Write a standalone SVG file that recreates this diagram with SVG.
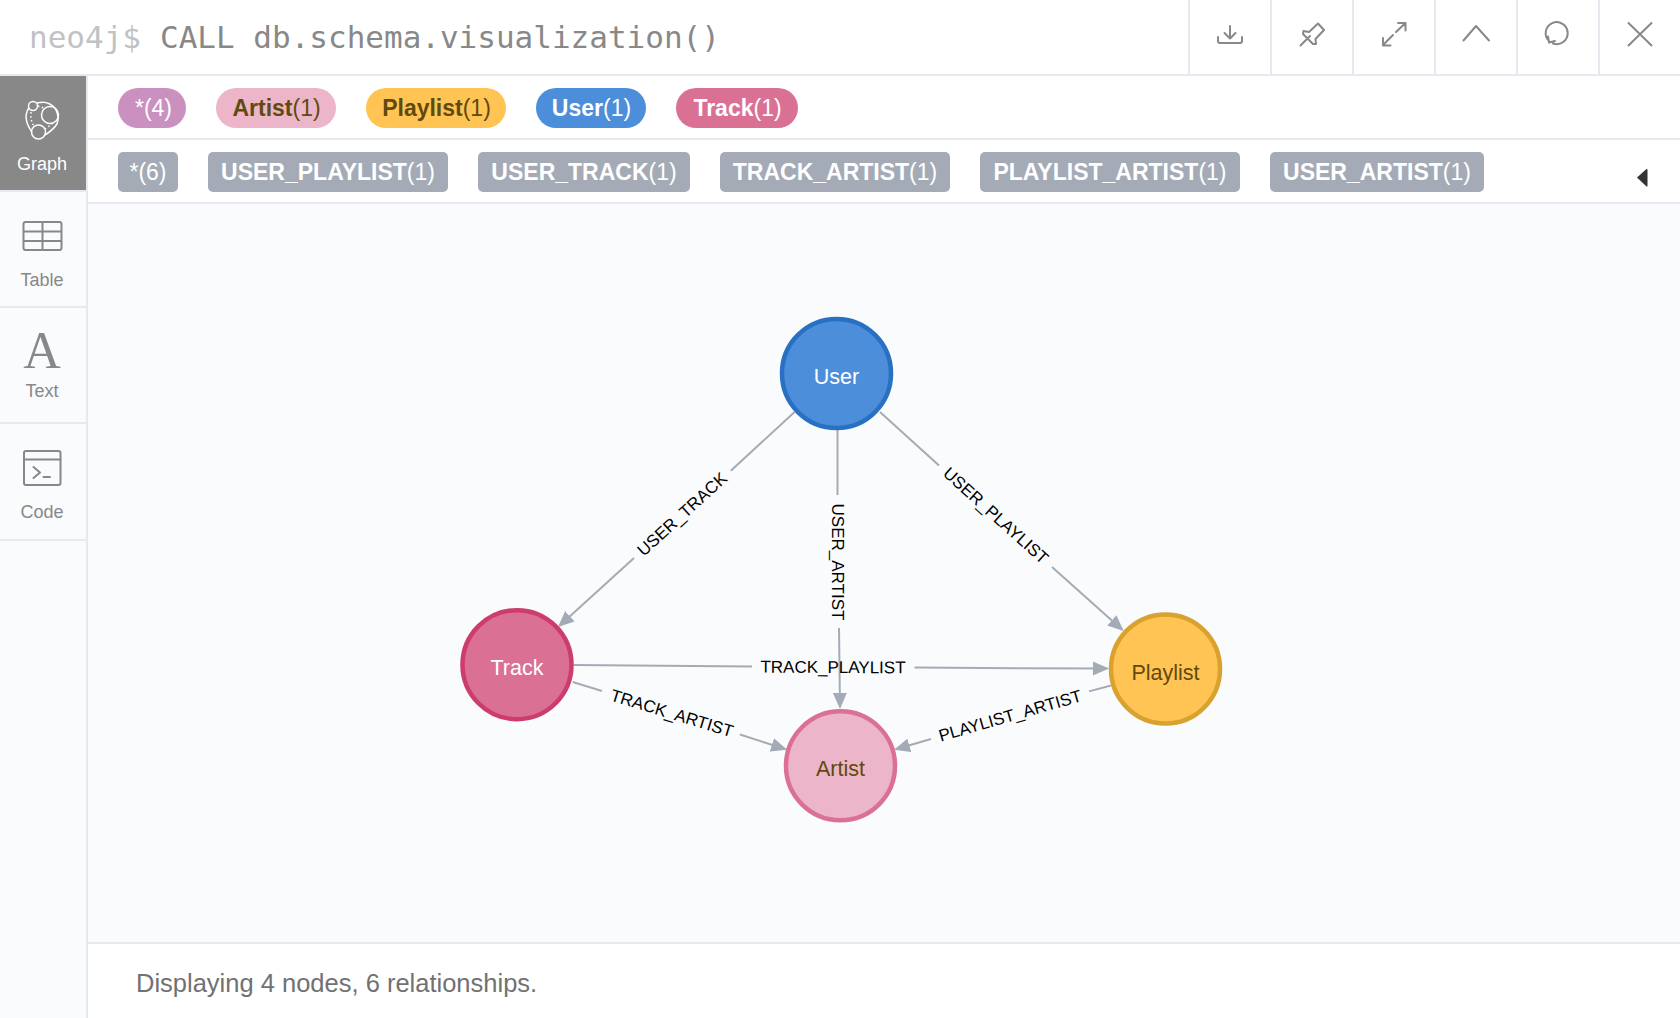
<svg xmlns="http://www.w3.org/2000/svg" width="1680" height="1018" viewBox="0 0 1680 1018">
<style>
text{font-family:"Liberation Sans",Arial,sans-serif}
.mono{font-family:"DejaVu Sans Mono","Liberation Mono",monospace;font-size:31px}
.div{fill:#e6e9ef}
.ico{fill:none;stroke:#888;stroke-width:2;stroke-linecap:round;stroke-linejoin:round}
.side{font-size:18px;text-anchor:middle;fill:#888}
.pill{font-size:23px;text-anchor:middle}
.pill .b{font-weight:bold}
.tag{fill:#a5abb6}
.tagt{font-size:23px;text-anchor:middle;fill:#fff}
.tagt .b{font-weight:bold}
.edge line{stroke:#a5abb6;stroke-width:2}
.elabel{font-size:17px;text-anchor:middle;fill:#000}
.nlabel{font-size:21.5px;text-anchor:middle}
.node{stroke-width:4.5}
</style>
<defs>
<marker id="arrow" markerUnits="userSpaceOnUse" markerWidth="17" markerHeight="16" refX="14" refY="8" orient="auto"><path d="M0 1L16 8L0 15z" fill="#a5abb6"/></marker>
</defs>
<rect width="1680" height="1018" fill="#fff"/>
<rect x="0" y="76" width="86" height="942" fill="#f9fbfd"/>
<rect x="88" y="204" width="1592" height="739" fill="#f9fbfd"/>

<g id="header">
<text class="mono" x="29" y="48" fill="#c0c2c5">neo4j$</text>
<text class="mono" x="160" y="48" fill="#888">CALL db.schema.visualization()</text>
<rect class="div" x="1188" y="0" width="2" height="75"/>
<rect class="div" x="1270" y="0" width="2" height="75"/>
<rect class="div" x="1352" y="0" width="2" height="75"/>
<rect class="div" x="1434" y="0" width="2" height="75"/>
<rect class="div" x="1516" y="0" width="2" height="75"/>
<rect class="div" x="1598" y="0" width="2" height="75"/>
<rect class="div" x="0" y="74" width="1680" height="2"/>
<path class="ico" d="M1230 26V38M1224.500 33L1230 38.500L1235.500 33M1218 37V41Q1218 43 1220 43H1240Q1242 43 1242 41V37"/>
<path class="ico" d="M1300.500 45.500L1310 36M1303.500 31L1309 32L1318 23.500L1324 30L1315.500 39L1316 44L1313 44L1303 34z"/>
<path class="ico" d="M1383 45L1393 35M1383 38V45.500H1390.500M1396 32L1405.500 23M1398 23H1405.500V30.500"/>
<path class="ico" d="M1463.500 40.500L1476 26L1489 40.500"/>
<path class="ico" d="M1549 41A11 11 0 1 1 1553 43.500M1548 36.500L1549 42.500L1555 41"/>
<path class="ico" d="M1628.500 23L1651.500 45.500M1651.500 23L1628.500 45.500"/>
</g>

<g id="sidebar">
<rect x="0" y="76" width="86" height="114" fill="#888"/>
<rect class="div" x="86" y="76" width="2" height="942"/>
<rect class="div" x="0" y="190" width="86" height="2"/>
<rect class="div" x="0" y="306" width="86" height="2"/>
<rect class="div" x="0" y="422" width="86" height="2"/>
<rect class="div" x="0" y="539" width="86" height="2"/>
<g fill="none" stroke="#fff" stroke-width="1.500">
<circle cx="50" cy="115" r="8.500"/><circle cx="33" cy="106" r="4.500"/><circle cx="38.500" cy="132" r="7"/>
<path d="M37 103Q48 100 55 108Q60 116 57 124Q53 130 45 135M32 132Q26 124 26 116Q27 110 29 108"/>
<path stroke-dasharray="1.500 2.500" d="M31 112Q30 120 34 126M38 106L44 108M45 129L52 124"/>
</g>
<text class="side" x="42" y="170" fill="#fff" style="fill:#fff">Graph</text>
<rect class="ico" x="23.500" y="222" width="38" height="28" rx="2" stroke-width="2.500"/>
<path class="ico" d="M23.500 231.500H61.500M23.500 241H61.500M42.500 222V250" style="stroke-linecap:butt"/>
<text class="side" x="42" y="286">Table</text>
<text x="42" y="368" font-size="52" text-anchor="middle" fill="#888" style="font-family:'Liberation Serif',serif">A</text>
<text class="side" x="42" y="397">Text</text>
<rect class="ico" x="24" y="451" width="36.500" height="34" rx="2"/>
<path class="ico" d="M24 459.500H60.500M33.500 467L40 472.500L33.500 478M43.500 477H50"/>
<text class="side" x="42" y="518">Code</text>
</g>

<g id="legend-labels">
<rect class="div" x="88" y="138" width="1592" height="2"/>
<rect class="div" x="88" y="202" width="1592" height="2"/>
<rect x="118" y="88" width="68" height="40" rx="20" fill="#c990c0"/>
<text class="pill" x="153.500" y="116" fill="#fff">*(4)</text>
<rect x="216" y="88" width="120" height="40" rx="20" fill="#ecb5c9"/>
<text class="pill" x="276.500" y="116" fill="#604a0e"><tspan class="b">Artist</tspan>(1)</text>
<rect x="366" y="88" width="140" height="40" rx="20" fill="#ffc454"/>
<text class="pill" x="436.500" y="116" fill="#604a0e"><tspan class="b">Playlist</tspan>(1)</text>
<rect x="536" y="88" width="110" height="40" rx="20" fill="#4c8eda"/>
<text class="pill" x="591.500" y="116" fill="#fff"><tspan class="b">User</tspan>(1)</text>
<rect x="676" y="88" width="122" height="40" rx="20" fill="#da7194"/>
<text class="pill" x="737.500" y="116" fill="#fff"><tspan class="b">Track</tspan>(1)</text>
</g>

<g id="legend-types">
<rect class="tag" x="118" y="152" width="60" height="40" rx="5"/>
<text class="tagt" x="148" y="180">*(6)</text>
<rect class="tag" x="208" y="152" width="240" height="40" rx="5"/>
<text class="tagt" x="328" y="180"><tspan class="b">USER_PLAYLIST</tspan>(1)</text>
<rect class="tag" x="478" y="152" width="212" height="40" rx="5"/>
<text class="tagt" x="584" y="180"><tspan class="b">USER_TRACK</tspan>(1)</text>
<rect class="tag" x="720" y="152" width="230" height="40" rx="5"/>
<text class="tagt" x="835" y="180"><tspan class="b">TRACK_ARTIST</tspan>(1)</text>
<rect class="tag" x="980" y="152" width="260" height="40" rx="5"/>
<text class="tagt" x="1110" y="180"><tspan class="b">PLAYLIST_ARTIST</tspan>(1)</text>
<rect class="tag" x="1270" y="152" width="214" height="40" rx="5"/>
<text class="tagt" x="1377" y="180"><tspan class="b">USER_ARTIST</tspan>(1)</text>
<path d="M1646.500 169L1637 177.500L1646.500 186.500Q1647.500 187 1647.500 185.500V170Q1647.500 168.500 1646.500 169z" fill="#333"/>
</g>

<g id="connectors" class="edge">
<g id="edge-user-track"><line x1="794.600" y1="412" x2="730.800" y2="470.700"/><line x1="634" y1="558" x2="559.500" y2="625.700" marker-end="url(#arrow)"/></g>
<g id="edge-user-artist"><line x1="837.500" y1="430" x2="837.500" y2="495"/><line x1="839" y1="628" x2="840" y2="707" marker-end="url(#arrow)"/></g>
<g id="edge-user-playlist"><line x1="880" y1="412" x2="939" y2="465.500"/><line x1="1052" y1="567" x2="1122.200" y2="629.700" marker-end="url(#arrow)"/></g>
<g id="edge-track-playlist"><line x1="573.700" y1="665" x2="752" y2="666.500"/><line x1="914.500" y1="667.600" x2="1107" y2="668.600" marker-end="url(#arrow)"/></g>
<g id="edge-track-artist"><line x1="572.700" y1="682" x2="602" y2="691"/><line x1="740" y1="734.500" x2="785.200" y2="749.100" marker-end="url(#arrow)"/></g>
<g id="edge-playlist-artist"><line x1="1111" y1="685.500" x2="1089" y2="691.400"/><line x1="931" y1="739" x2="895.900" y2="749.300" marker-end="url(#arrow)"/></g>
<text class="elabel" transform="translate(682 514) rotate(-42.300) translate(0 6)">USER_TRACK</text>
<text class="elabel" transform="translate(837.500 562) rotate(90) translate(0 6)">USER_ARTIST</text>
<text class="elabel" transform="translate(996 515.500) rotate(42) translate(0 6)">USER_PLAYLIST</text>
<text class="elabel" transform="translate(833 667) rotate(0.300) translate(0 6)">TRACK_PLAYLIST</text>
<text class="elabel" transform="translate(672 713) rotate(17) translate(0 6)">TRACK_ARTIST</text>
<text class="elabel" transform="translate(1010 715.500) rotate(-16) translate(0 6)">PLAYLIST_ARTIST</text>
</g>

<g id="node-user"><circle class="node" cx="836.500" cy="373.500" r="54.500" fill="#4c8eda" stroke="#2870c2"/><text class="nlabel" x="836.500" y="384" fill="#fff">User</text></g>
<g id="node-track"><circle class="node" cx="517" cy="664.700" r="54.500" fill="#da7194" stroke="#cc3c6c"/><text class="nlabel" x="517" y="675" fill="#fff">Track</text></g>
<g id="node-playlist"><circle class="node" cx="1165.500" cy="669" r="54.500" fill="#ffc454" stroke="#d9a12e"/><text class="nlabel" x="1165.500" y="680" fill="#604a0e">Playlist</text></g>
<g id="node-artist"><circle class="node" cx="840.500" cy="765.800" r="54.500" fill="#ecb5c9" stroke="#da7194"/><text class="nlabel" x="840.500" y="776" fill="#604a0e">Artist</text></g>

<g id="footer">
<rect class="div" x="88" y="942" width="1592" height="2"/>
<text x="136" y="992" font-size="25.500" fill="#717172">Displaying 4 nodes, 6 relationships.</text>
</g>
</svg>
